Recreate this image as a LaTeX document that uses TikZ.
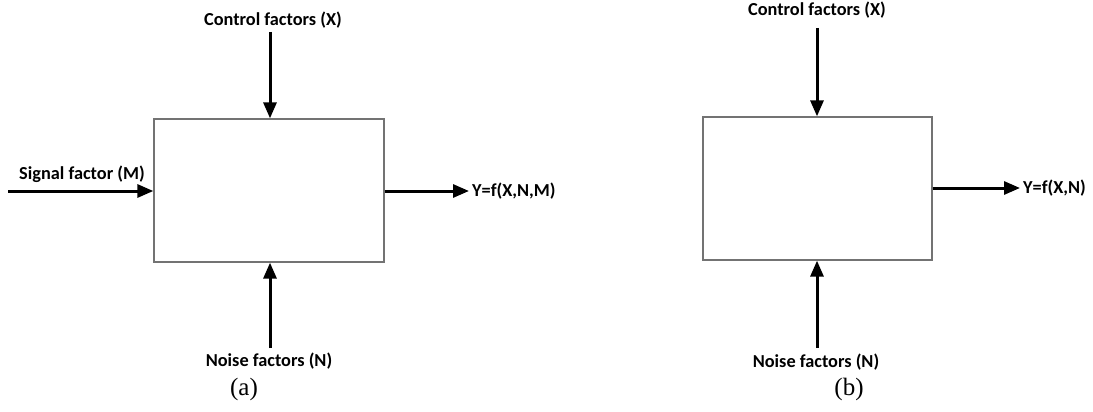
\documentclass[tikz,border=0pt]{standalone}
\usepackage{fontspec}
\setmainfont{Liberation Serif}
\setsansfont{Carlito}
\usetikzlibrary{arrows.meta}
\begin{document}
\begin{tikzpicture}[x=1pt,y=-1pt,
  block/.style={draw=black!55, line width=1.3pt, fill=white, inner sep=0pt},
  flow/.style={line width=3pt, -{Triangle[length=16pt,width=13pt]}},
  lbl/.style={font=\sffamily\bfseries\fontsize{18.3}{21}\selectfont, inner sep=0pt},
  subcap/.style={font=\rmfamily\fontsize{25}{28}\selectfont, inner sep=0pt}]
\useasboundingbox (0,0) rectangle (1093,412);

% ---- (a): system with signal factor ----
\node[block, minimum width=230pt, minimum height=143pt] (boxA) at (269,190.5) {};
\node[lbl] (ctrlA) at (273,20) {Control factors (X)};
\node[lbl] (sigA) at (82,174) {Signal factor (M)};
\node[lbl, anchor=west] (outA) at (472,191) {Y=f(X,N,M)};
\node[lbl] (noiseA) at (269,361) {Noise factors (N)};
\node[subcap] (capA) at (244,389) {(a)};
\coordinate (inTopA) at (270,32);
\coordinate (inLeftA) at (8,191);
\coordinate (outEndA) at (469,191);
\coordinate (inBotA) at (270,348);
\draw[flow] (inTopA) -- (inTopA |- boxA.north);
\draw[flow] (inLeftA) -- (inLeftA -| boxA.west);
\draw[flow] (outEndA -| boxA.east) -- (outEndA);
\draw[flow] (inBotA) -- (inBotA |- boxA.south);

% ---- (b): system without signal factor ----
\node[block, minimum width=229pt, minimum height=143pt] (boxB) at (817.5,188.5) {};
\node[lbl] (ctrlB) at (817,10) {Control factors (X)};
\node[lbl, anchor=west] (outB) at (1023,188) {Y=f(X,N)};
\node[lbl] (noiseB) at (816,362) {Noise factors (N)};
\node[subcap] (capB) at (849,389) {(b)};
\coordinate (inTopB) at (817,28);
\coordinate (outEndB) at (1020,188);
\coordinate (inBotB) at (817,348);
\draw[flow] (inTopB) -- (inTopB |- boxB.north);
\draw[flow] (outEndB -| boxB.east) -- (outEndB);
\draw[flow] (inBotB) -- (inBotB |- boxB.south);
\end{tikzpicture}
\end{document}
